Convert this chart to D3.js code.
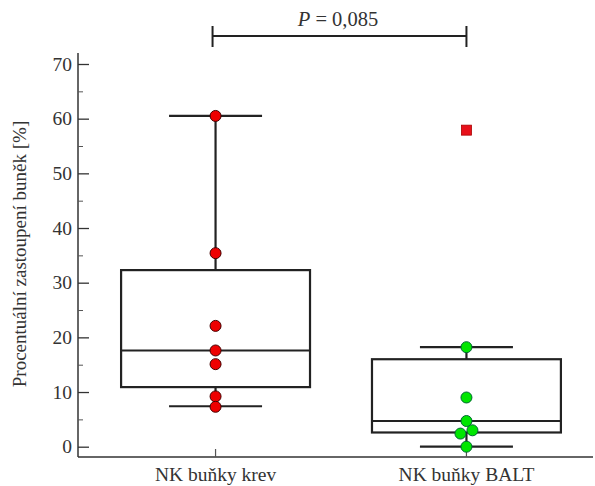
<!DOCTYPE html>
<html>
<head>
<meta charset="utf-8">
<script src="https://cdnjs.cloudflare.com/ajax/libs/d3/7.8.5/d3.min.js"></script>
<style>
  body { margin: 0; background: #fff; }
  svg text { font-family: "Liberation Serif", "Times New Roman", serif; fill: #333; }
</style>
</head>
<body>
<svg></svg>
<script>
  // data
  let categories = ["NK buňky krev", "NK buňky BALT"];
  let boxes = [
    {q1: 10.9, median: 17.6, q3: 32.3, low: 7.4, high: 60.5},
    {q1: 2.6, median: 4.7, q3: 16.0, low: 0.0, high: 18.2}
  ];
  let pointsKrev = [60.5, 35.4, 22.1, 17.6, 15.1, 9.2, 7.3];
  let pointsBalt = [18.2, 9.0, 4.7, 3.0, 2.4, 0.0];
  let baltJitter = [0, 0, 0, 6, -6, 0];   // side offset of overlapping dots
  let outliersBalt = [57.9];
  let yTicks = [0, 10, 20, 30, 40, 50, 60, 70];
  let yMinor = [5, 15, 25, 35, 45, 55, 65];
  let pLabel = "0,085";

  let width = 595, height = 486;
  let margin = {top: 53, right: 2, bottom: 29, left: 78};
  let svg = d3.select("svg").attr("width", width).attr("height", height);

  let scales = {
    y: d3.scaleLinear().domain([0, 70]).range([446.7, 64]),
    x: d3.scaleBand().domain(categories).range([96, 586]).paddingInner(0.247).paddingOuter(0.1)
  };
  let cx = c => scales.x(c) + scales.x.bandwidth() / 2;
  let axisY = height - margin.bottom;

  // axes lines
  svg.append("line").attr("x1", margin.left).attr("x2", margin.left)
    .attr("y1", margin.top).attr("y2", axisY).attr("stroke", "#333").attr("stroke-width", 1.5);
  svg.append("line").attr("x1", margin.left).attr("x2", width - margin.right)
    .attr("y1", axisY).attr("y2", axisY).attr("stroke", "#333").attr("stroke-width", 1.5);

  // y ticks pointing inside
  let yAxis = svg.append("g").attr("transform", "translate(" + margin.left + ",0)")
    .call(d3.axisRight(scales.y).tickValues(yTicks).tickSize(11).tickFormat(""));
  yAxis.select(".domain").remove();
  yAxis.selectAll("line").attr("stroke", "#333").attr("stroke-width", 1.3);
  let yMinorAxis = svg.append("g").attr("transform", "translate(" + margin.left + ",0)")
    .call(d3.axisRight(scales.y).tickValues(yMinor).tickSize(5).tickFormat(""));
  yMinorAxis.select(".domain").remove();
  yMinorAxis.selectAll("line").attr("stroke", "#555").attr("stroke-width", 1);

  svg.selectAll(".ylab").data(yTicks).enter().append("text")
    .attr("class", "ylab")
    .attr("x", 72).attr("y", d => scales.y(d) + 6.5)
    .attr("text-anchor", "end").attr("font-size", 19.5)
    .text(d => d);

  // x ticks and labels
  categories.forEach(c => {
    svg.append("line").attr("x1", cx(c)).attr("x2", cx(c))
      .attr("y1", axisY).attr("y2", axisY - 8).attr("stroke", "#555").attr("stroke-width", 1.2);
  });
  svg.selectAll(".xlab").data(categories).enter().append("text")
    .attr("class", "xlab")
    .attr("x", d => cx(d)).attr("y", 481)
    .attr("text-anchor", "middle").attr("font-size", 19.5)
    .text(d => d);

  // y label
  svg.append("text")
    .attr("transform", "translate(26,254) rotate(-90)")
    .attr("text-anchor", "middle").attr("font-size", 19)
    .text("Procentuální zastoupení buněk [%]");

  // box plots
  let capW = 93;
  boxes.forEach((b, i) => {
    let c = categories[i];
    let x0 = scales.x(c), bw = scales.x.bandwidth(), m = cx(c);
    let g = svg.append("g").attr("stroke", "#222").attr("stroke-width", 2.2).attr("fill", "none");
    g.append("line").attr("x1", m).attr("x2", m).attr("y1", scales.y(b.high)).attr("y2", scales.y(b.q3));
    g.append("line").attr("x1", m).attr("x2", m).attr("y1", scales.y(b.q1)).attr("y2", scales.y(b.low));
    g.append("line").attr("x1", m - capW / 2).attr("x2", m + capW / 2).attr("y1", scales.y(b.high)).attr("y2", scales.y(b.high));
    g.append("line").attr("x1", m - capW / 2).attr("x2", m + capW / 2).attr("y1", scales.y(b.low)).attr("y2", scales.y(b.low));
    g.append("rect").attr("x", x0).attr("width", bw)
      .attr("y", scales.y(b.q3)).attr("height", scales.y(b.q1) - scales.y(b.q3));
    g.append("line").attr("x1", x0).attr("x2", x0 + bw).attr("y1", scales.y(b.median)).attr("y2", scales.y(b.median));
  });

  // dots
  svg.selectAll(".dot-krev").data(pointsKrev).enter().append("circle")
    .attr("class", "dot-krev")
    .attr("cx", cx(categories[0])).attr("cy", d => scales.y(d)).attr("r", 5.5)
    .attr("fill", "#ee0000").attr("stroke", "#400").attr("stroke-width", 1);
  svg.selectAll(".dot-balt").data(pointsBalt).enter().append("circle")
    .attr("class", "dot-balt")
    .attr("cx", (d, i) => cx(categories[1]) + baltJitter[i]).attr("cy", d => scales.y(d)).attr("r", 5.5)
    .attr("fill", "#00e600").attr("stroke", "#063").attr("stroke-width", 1);
  svg.selectAll(".outlier").data(outliersBalt).enter().append("rect")
    .attr("class", "outlier")
    .attr("x", cx(categories[1]) - 5).attr("y", d => scales.y(d) - 5)
    .attr("width", 10).attr("height", 10)
    .attr("fill", "#e8101a").attr("stroke", "#a00").attr("stroke-width", 0.8);

  // significance bracket
  let bx1 = cx(categories[0]) - 3, bx2 = cx(categories[1]), by = 36;
  let br = svg.append("g").attr("stroke", "#222").attr("stroke-width", 2);
  br.append("line").attr("x1", bx1).attr("x2", bx2).attr("y1", by).attr("y2", by);
  br.append("line").attr("x1", bx1).attr("x2", bx1).attr("y1", 26).attr("y2", 47);
  br.append("line").attr("x1", bx2).attr("x2", bx2).attr("y1", 26).attr("y2", 47);
  let pt = svg.append("text").attr("x", 338).attr("y", 26).attr("text-anchor", "middle").attr("font-size", 20.5);
  pt.append("tspan").attr("font-style", "italic").text("P");
  pt.append("tspan").text(" = " + pLabel);
</script>
</body>
</html>
